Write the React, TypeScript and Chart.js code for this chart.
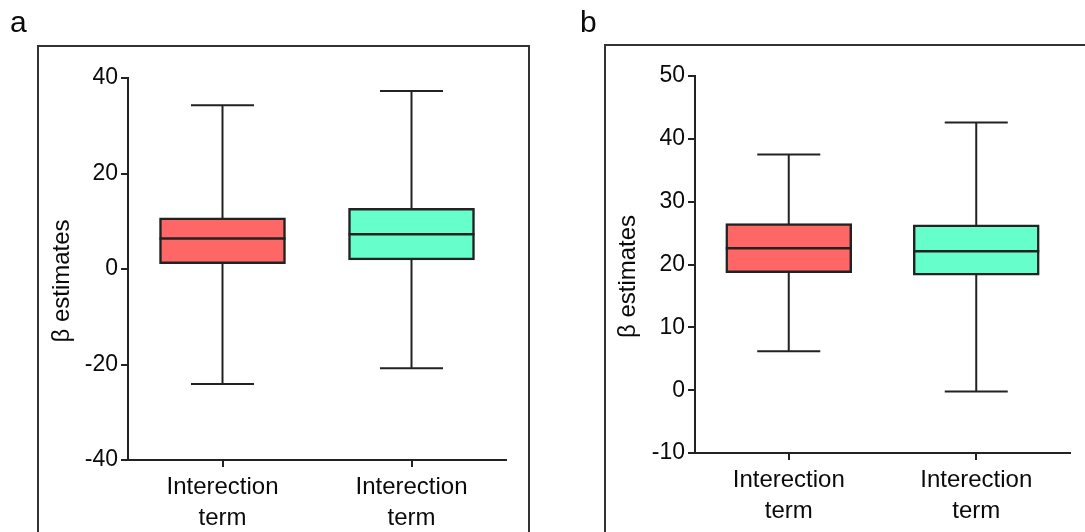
import React, { useEffect, useRef } from 'react';
import { Chart, registerables } from 'chart.js';

Chart.register(...registerables);

// ---------- data ----------
const categories = [['Interection', 'term'], ['Interection', 'term']];
const boxColors = ['#FF6666', '#66FFCC'];

// panel a
const aMin = [-24.1, -20.8];
const aQ1 = [1.1, 1.9];
const aMedian = [6.4, 7.3];
const aQ3 = [10.7, 12.7];
const aMax = [34.3, 37.3];
const aTickValues = [-40, -20, 0, 20, 40];

// panel b
const bMin = [6.2, -0.2];
const bQ1 = [18.7, 18.3];
const bMedian = [22.6, 22.1];
const bQ3 = [26.5, 26.3];
const bMax = [37.5, 42.6];
const bTickValues = [-10, 0, 10, 20, 30, 40, 50];

const yTitle = 'β estimates';

// ---------- style ----------
const INK = '#222222';
const TEXT = '#0a0a0a';
const FONT = '"Liberation Sans", Arial, Helvetica, sans-serif';

type Stats = { min: number[]; q1: number[]; median: number[]; q3: number[]; max: number[] };

type PanelProps = {
  left: number;
  width: number;
  stats: Stats;
  tickValues: number[];
  padTop: number;
  padRight: number;
  yAxisWidth: number;
  xAxisHeight: number;
  frame: { x: number; y: number };
  frameRight: number | null;
  letter: string;
  letterX: number;
  titleX: number;
};

function Panel(p: PanelProps) {
  const ref = useRef<HTMLCanvasElement | null>(null);

  useEffect(() => {
    if (!ref.current) return;
    const s = p.stats;

    const framePlugin = {
      id: 'frame',
      beforeDraw(chart: any) {
        const ctx = chart.ctx;
        ctx.save();
        ctx.strokeStyle = '#333';
        ctx.lineWidth = 2;
        ctx.beginPath();
        const right = p.frameRight === null ? chart.width + 10 : p.frameRight;
        ctx.moveTo(p.frame.x, chart.height + 10);
        ctx.lineTo(p.frame.x, p.frame.y);
        ctx.lineTo(right, p.frame.y);
        ctx.lineTo(right, chart.height + 10);
        ctx.stroke();
        ctx.fillStyle = TEXT;
        ctx.font = `30px ${FONT}`;
        ctx.textBaseline = 'alphabetic';
        ctx.textAlign = 'left';
        ctx.fillText(p.letter, p.letterX, 32);
        ctx.restore();
      },
      afterDraw(chart: any) {
        const ctx = chart.ctx;
        const area = chart.chartArea;
        ctx.save();
        ctx.fillStyle = TEXT;
        ctx.font = `24px ${FONT}`;
        ctx.textAlign = 'center';
        ctx.textBaseline = 'middle';
        ctx.translate(p.titleX, (area.top + area.bottom) / 2 + 12);
        ctx.rotate(-Math.PI / 2);
        ctx.fillText(yTitle, 0, 0);
        ctx.restore();
      },
    };

    const boxPlugin = {
      id: 'boxWhiskers',
      beforeDatasetsDraw(chart: any) {
        const ctx = chart.ctx;
        const y = chart.scales.y;
        const bars = chart.getDatasetMeta(0).data;
        ctx.save();
        ctx.strokeStyle = INK;
        ctx.lineWidth = 2;
        s.min.forEach((mn, i) => {
          const bar = bars[i];
          const cx = bar.x;
          const capHalf = bar.width / 4;
          const yMin = y.getPixelForValue(mn);
          const yMax = y.getPixelForValue(s.max[i]);
          ctx.beginPath();
          ctx.moveTo(cx, yMin);
          ctx.lineTo(cx, yMax);
          ctx.moveTo(cx - capHalf, yMin);
          ctx.lineTo(cx + capHalf, yMin);
          ctx.moveTo(cx - capHalf, yMax);
          ctx.lineTo(cx + capHalf, yMax);
          ctx.stroke();
        });
        ctx.restore();
      },
      afterDatasetsDraw(chart: any) {
        const ctx = chart.ctx;
        const y = chart.scales.y;
        const bars = chart.getDatasetMeta(0).data;
        ctx.save();
        ctx.strokeStyle = INK;
        ctx.lineWidth = 2.5;
        s.median.forEach((md, i) => {
          const bar = bars[i];
          const py = y.getPixelForValue(md);
          ctx.beginPath();
          ctx.moveTo(bar.x - bar.width / 2, py);
          ctx.lineTo(bar.x + bar.width / 2, py);
          ctx.stroke();
        });
        ctx.restore();
      },
    };

    const chart = new Chart(ref.current, {
      type: 'bar',
      data: {
        labels: categories,
        datasets: [
          {
            data: s.q1.map((q, i) => [q, s.q3[i]]) as any,
            backgroundColor: boxColors,
            borderColor: INK,
            borderWidth: 2.5,
            borderSkipped: false,
            barThickness: 126,
          },
        ],
      },
      options: {
        responsive: false,
        animation: false,
        events: [],
        layout: { padding: { left: 0, top: p.padTop, right: p.padRight, bottom: 0 } },
        plugins: { legend: { display: false }, tooltip: { enabled: false } },
        scales: {
          x: {
            offset: true,
            grid: {
              offset: false,
              drawOnChartArea: false,
              drawTicks: true,
              tickLength: 7,
              color: INK,
              lineWidth: 2,
            },
            border: { display: true, color: INK, width: 2 },
            ticks: {
              color: TEXT,
              padding: 5,
              font: { family: FONT, size: 24, lineHeight: 1.3 },
              maxRotation: 0,
              autoSkip: false,
            },
            afterFit: (scale: any) => {
              scale.height = p.xAxisHeight;
            },
          },
          y: {
            min: p.tickValues[0],
            max: p.tickValues[p.tickValues.length - 1],
            grid: {
              drawOnChartArea: false,
              drawTicks: true,
              tickLength: 7,
              color: INK,
              lineWidth: 2,
            },
            border: { display: true, color: INK, width: 2 },
            ticks: {
              stepSize: p.tickValues[1] - p.tickValues[0],
              color: TEXT,
              padding: 3,
              font: { family: FONT, size: 23 },
            },
            afterFit: (scale: any) => {
              scale.width = p.yAxisWidth;
            },
          },
        },
      },
      plugins: [framePlugin, boxPlugin],
    } as any);

    return () => chart.destroy();
  }, []);

  return (
    <canvas
      ref={ref}
      width={p.width}
      height={532}
      style={{ position: 'absolute', left: p.left, top: 0, width: p.width, height: 532 }}
    />
  );
}

export default function App() {
  return (
    <div
      style={{
        position: 'absolute',
        left: 0,
        top: 0,
        width: 1085,
        height: 532,
        overflow: 'hidden',
        background: '#fff',
      }}
    >
      <Panel
        left={0}
        width={560}
        stats={{ min: aMin, q1: aQ1, median: aMedian, q3: aQ3, max: aMax }}
        tickValues={aTickValues}
        padTop={78}
        padRight={54}
        yAxisWidth={128}
        xAxisHeight={72}
        frame={{ x: 38, y: 46 }}
        frameRight={529}
        letter="a"
        letterX={10}
        titleX={62}
      />
      <Panel
        left={560}
        width={525}
        stats={{ min: bMin, q1: bQ1, median: bMedian, q3: bQ3, max: bMax }}
        tickValues={bTickValues}
        padTop={76}
        padRight={15}
        yAxisWidth={135}
        xAxisHeight={79}
        frame={{ x: 45, y: 45 }}
        frameRight={null}
        letter="b"
        letterX={20}
        titleX={68}
      />
    </div>
  );
}
